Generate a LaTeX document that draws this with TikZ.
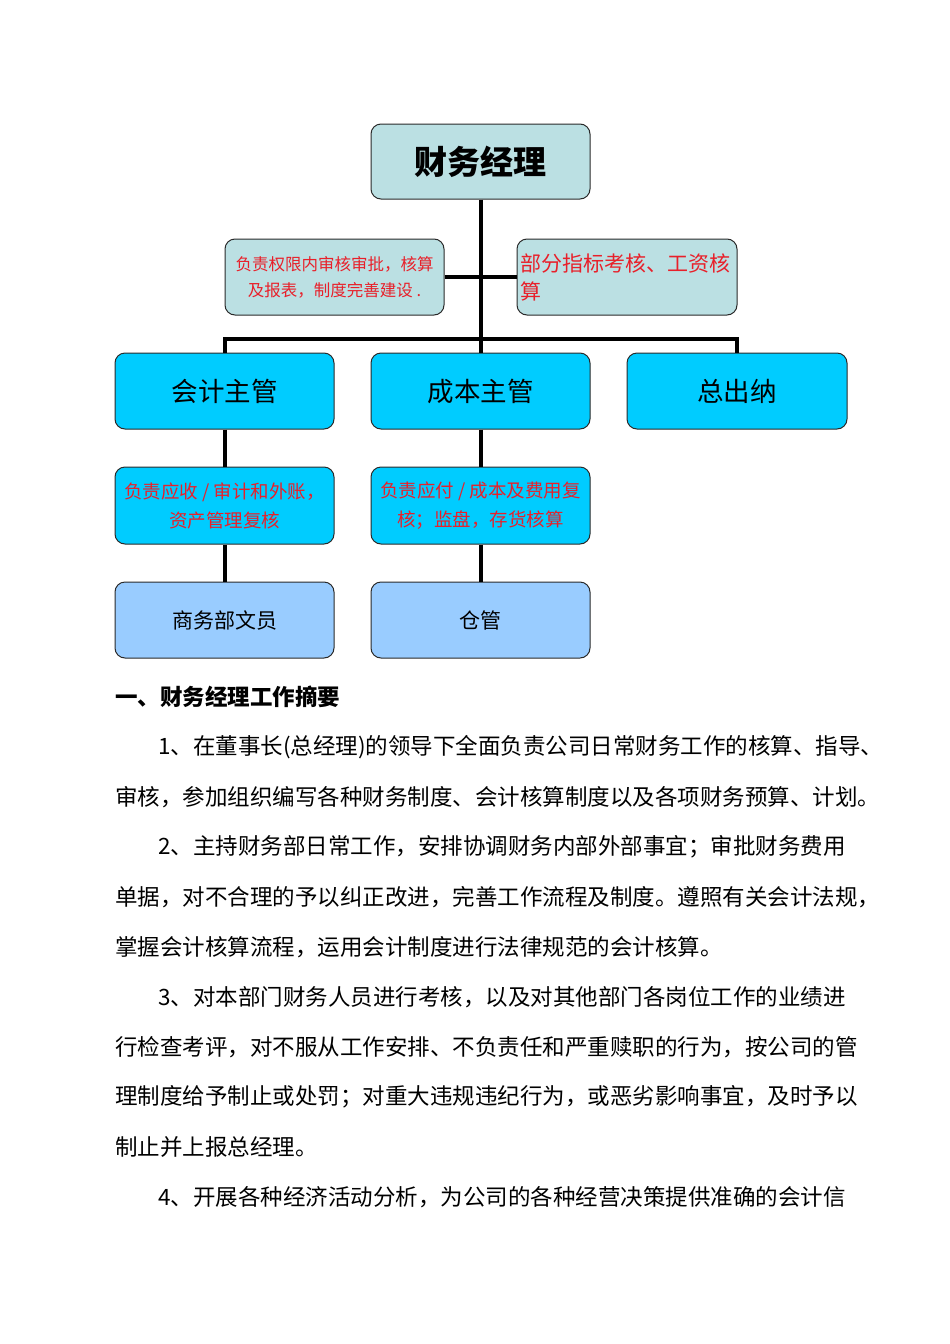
\documentclass[tikz,border=0pt]{standalone}
\usepackage{fontspec}
\newfontfamily\cjk{Noto Sans CJK SC}
\definecolor{tealbox}{HTML}{BBE0E3}
\definecolor{cyanbox}{HTML}{00CCFF}
\definecolor{lbluebox}{HTML}{99CCFF}
\definecolor{redtxt}{HTML}{E8202A}
\definecolor{edge}{HTML}{2A2A2A}
\tikzset{
  orgbox/.style={draw=edge, line width=1pt, rounded corners=10pt, inner sep=0pt,
    minimum width=219pt, minimum height=76pt, align=center, font=\cjk},
  conn/.style={line width=4pt, black},
  bodyline/.style={anchor=west, inner sep=0pt, font=\cjk\fontsize{22.5}{23}\selectfont},
}
\begin{document}
\begin{tikzpicture}[x=1pt,y=-1pt]
\useasboundingbox (0,0) rectangle (950,1344);
% nodes
\node[orgbox, fill=tealbox, minimum height=75pt, font=\cjk\bfseries\fontsize{33}{35}\selectfont] (fm) at (480.5,161.5) {财务经理};
\node[orgbox, fill=tealbox, text=redtxt, font=\cjk\fontsize{16.5}{26}\selectfont] (d1) at (334.5,277) {负责权限内审核审批，核算\\及报表，制度完善建设 .};
\node[orgbox, fill=tealbox, text=redtxt, minimum width=220pt, text width=214pt, align=left, font=\cjk\fontsize{21}{28}\selectfont] (d2) at (627,277) {部分指标考核、工资核\\算};
\node[orgbox, fill=cyanbox, font=\cjk\fontsize{26.5}{28}\selectfont] (kj) at (224.5,391) {会计主管};
\node[orgbox, fill=cyanbox, font=\cjk\fontsize{26.5}{28}\selectfont] (cb) at (480.5,391) {成本主管};
\node[orgbox, fill=cyanbox, minimum width=220pt, font=\cjk\fontsize{26.5}{28}\selectfont] (zc) at (737,391) {总出纳};
\node[orgbox, fill=cyanbox, minimum height=77pt, text=redtxt, font=\cjk\fontsize{18.5}{29}\selectfont] (k1) at (224.5,505.5) {负责应收 / 审计和外账，\\资产管理复核};
\node[orgbox, fill=cyanbox, minimum height=77pt, text=redtxt, font=\cjk\fontsize{18.5}{29}\selectfont] (c1) at (480.5,505.5) {负责应付 / 成本及费用复\\核；监盘，存货核算};
\node[orgbox, fill=lbluebox, font=\cjk\fontsize{21}{24}\selectfont] (sw) at (224.5,620) {商务部文员};
\node[orgbox, fill=lbluebox, font=\cjk\fontsize{21}{24}\selectfont] (cg) at (480.5,620) {仓管};
% connectors
\draw[conn] (fm.south) -- (cb.north);
\draw[conn] (d1.east) -- (d2.west);
\draw[conn] (kj.north) -- ++(0,-14) -| (zc.north);
\draw[conn] (kj.south) -- (k1.north);
\draw[conn] (k1.south) -- (sw.north);
\draw[conn] (cb.south) -- (c1.north);
\draw[conn] (c1.south) -- (cg.north);
% text body
\node[bodyline, font=\cjk\bfseries\fontsize{22.5}{23}\selectfont] (h) at (115,697) {一、财务经理工作摘要};
\node[bodyline] (l1) at (158,747) {1、在董事长(总经理)的领导下全面负责公司日常财务工作的核算、指导、};
\node[bodyline] (l2) at (115,797) {审核，参加组织编写各种财务制度、会计核算制度以及各项财务预算、计划。};
\node[bodyline] (l3) at (158,847) {2、主持财务部日常工作，安排协调财务内部外部事宜；审批财务费用};
\node[bodyline] (l4) at (115,897) {单据，对不合理的予以纠正改进，完善工作流程及制度。遵照有关会计法规，};
\node[bodyline] (l5) at (115,947) {掌握会计核算流程，运用会计制度进行法律规范的会计核算。};
\node[bodyline] (l6) at (158,997) {3、对本部门财务人员进行考核，以及对其他部门各岗位工作的业绩进};
\node[bodyline] (l7) at (115,1047) {行检查考评，对不服从工作安排、不负责任和严重赎职的行为，按公司的管};
\node[bodyline] (l8) at (115,1097) {理制度给予制止或处罚；对重大违规违纪行为，或恶劣影响事宜，及时予以};
\node[bodyline] (l9) at (115,1147) {制止并上报总经理。};
\node[bodyline] (l10) at (158,1197) {4、开展各种经济活动分析，为公司的各种经营决策提供准确的会计信};
\end{tikzpicture}
\end{document}
